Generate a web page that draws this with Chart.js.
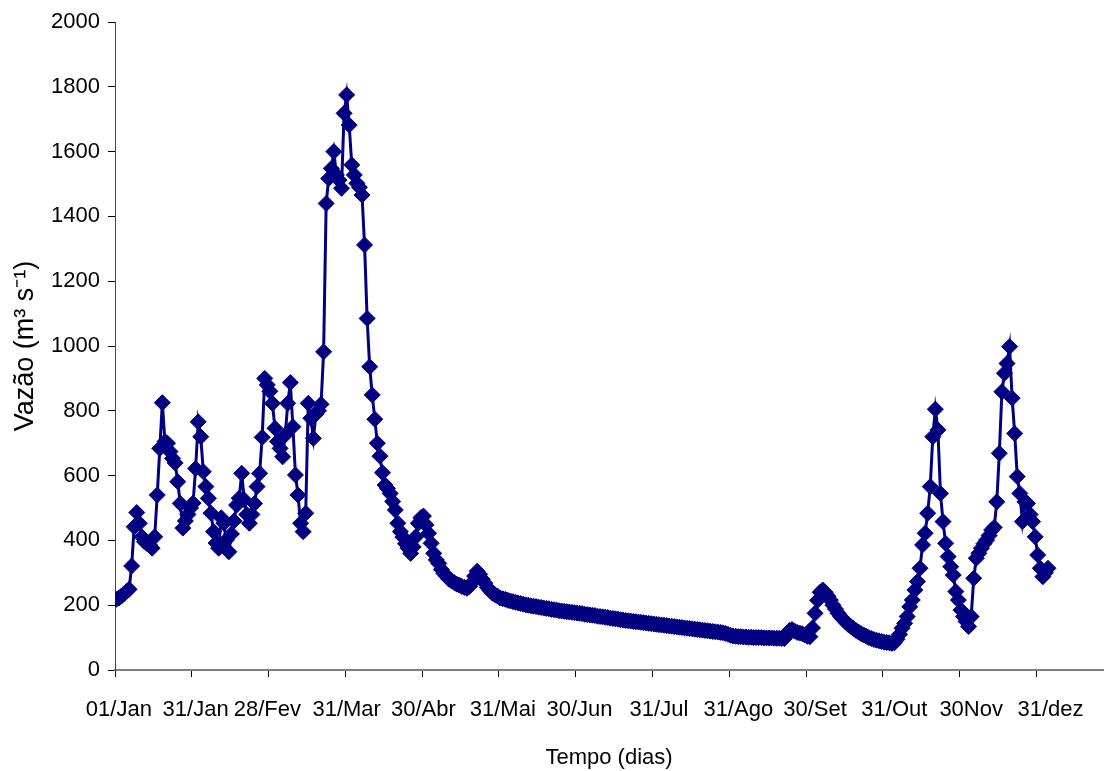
<!DOCTYPE html>
<html>
<head>
<meta charset="utf-8">
<script src="https://cdn.jsdelivr.net/npm/chart.js@4.4.1/dist/chart.umd.min.js"></script>
<style>
  html, body { margin: 0; padding: 0; background: #fff; }
  #grafico { display: block; }
</style>
</head>
<body>
<canvas id="grafico" width="1104" height="771"></canvas>
<script>
// datas do eixo x e o dia do ano de cada uma
const rotulosX = ['01/Jan', '31/Jan', '28/Fev', '31/Mar', '30/Abr', '31/Mai', '30/Jun',
                  '31/Jul', '31/Ago', '30/Set', '31/Out', '30Nov', '31/dez'];
const diasRotulo = [0, 30, 58, 89, 119, 150, 180, 211, 242, 272, 303, 333, 364];
const ticksY = [0, 200, 400, 600, 800, 1000, 1200, 1400, 1600, 1800, 2000];

// vazao diaria (m3 s-1)
const vazao = [
  218, 222, 228, 235, 242, 249, 321, 442, 486, 453,
  411, 396, 390, 386, 376, 411, 540, 684, 825, 705,
  700, 674, 653, 639, 581, 514, 438, 460, 480, 500,
  515, 622, 766, 720, 612, 566, 530, 484, 427, 392,
  376, 470, 453, 401, 365, 420, 460, 509, 530, 607,
  525, 480, 453, 480, 514, 566, 607, 718, 900, 880,
  860, 823, 746, 705, 684, 658, 725, 823, 887, 751,
  602, 540, 453, 427, 484, 823, 777, 715, 790, 800,
  820, 982, 1440, 1517, 1548, 1600, 1528, 1512, 1487, 1718,
  1775, 1682, 1559, 1528, 1502, 1490, 1466, 1312, 1085, 936,
  849, 774, 700, 660, 609, 571, 560, 545, 520, 494,
  453, 427, 410, 390, 376, 360, 380, 411, 453, 470,
  475, 448, 422, 391, 360, 340, 329, 310, 298, 290,
  280, 275, 270, 265, 262, 258, 255, 252, 258, 270,
  290, 305, 295, 280, 268, 255, 245, 237, 232, 228,
  222, 220, 218, 215, 213, 211, 209, 207, 205, 203,
  201, 200, 198, 197, 196, 194, 193, 191, 190, 189,
  187, 186, 185, 183, 182, 181, 180, 179, 178, 177,
  176, 175, 174, 172, 171, 170, 169, 168, 166, 165,
  164, 163, 162, 160, 159, 158, 157, 155, 154, 153,
  152, 151, 150, 149, 148, 147, 146, 145, 144, 143,
  142, 141, 140, 139, 138, 137, 136, 135, 134, 133,
  132, 131, 130, 129, 128, 127, 126, 125, 124, 123,
  122, 121, 120, 119, 118, 117, 116, 115, 113, 110,
  107, 105, 104, 103, 103, 102, 102, 101, 101, 100,
  100, 100, 100, 99, 99, 99, 99, 98, 98, 98,
  97, 97, 110, 122, 125, 120, 116, 114, 112, 108,
  104, 103, 130, 175, 215, 240, 247, 240, 228, 216,
  200, 188, 175, 165, 156, 148, 140, 134, 128, 122,
  117, 112, 108, 104, 100, 97, 94, 92, 90, 88,
  86, 85, 84, 82, 84, 95, 110, 129, 144, 165,
  195, 216, 247, 273, 314, 386, 422, 484, 566, 720,
  805, 741, 545, 458, 391, 350, 319, 293, 242, 216,
  185, 165, 150, 134, 165, 283, 345, 360, 376, 390,
  401, 415, 432, 440, 519, 669, 859, 916, 946, 998,
  839, 730, 597, 545, 458, 519, 514, 480, 458, 411,
  355, 314, 288, 300, 314
];

const familia = 'Liberation Sans, Arial, sans-serif';
const fonte = { family: familia, size: 22 };
const azul = '#000080';
const DIA_MAX = 386;

const pontos = vazao.map((v, i) => ({ x: i + 0.5, y: v }));

const ctx = document.getElementById('grafico').getContext('2d');
const grafico = new Chart(ctx, {
  type: 'line',
  data: {
    datasets: [{
      label: 'Vazão',
      data: pontos,
      borderColor: azul,
      backgroundColor: azul,
      borderWidth: 3,
      pointStyle: 'rectRot',
      pointRadius: 8,
      pointBorderWidth: 1,
      pointBackgroundColor: azul,
      pointBorderColor: azul,
      tension: 0
    }]
  },
  options: {
    responsive: false,
    animation: false,
    devicePixelRatio: 1,
    layout: { autoPadding: false, padding: { left: 0, top: 22, right: 1, bottom: 0 } },
    plugins: {
      legend: { display: false },
      tooltip: { enabled: false }
    },
    scales: {
      // eixo com as marcas (a cada 30 dias)
      x: {
        type: 'linear',
        position: 'bottom',
        weight: 0,
        min: 0,
        max: DIA_MAX,
        grid: { drawOnChartArea: false, drawTicks: true, tickLength: 7, tickColor: '#000', tickWidth: 1 },
        border: { display: true, color: '#808080', width: 2 },
        ticks: { stepSize: 30, autoSkip: false, includeBounds: false, display: false },
        afterFit: (s) => { s.height = 8; }
      },
      // eixo so com os rotulos das datas
      xr: {
        type: 'linear',
        position: 'bottom',
        weight: 1,
        min: 0,
        max: DIA_MAX,
        grid: { display: false },
        border: { display: false },
        afterBuildTicks: (s) => { s.ticks = diasRotulo.map(d => ({ value: d + 1.5 })); },
        ticks: {
          autoSkip: false,
          maxRotation: 0,
          padding: 11,
          color: '#000',
          font: fonte,
          callback: (v, i) => rotulosX[i]
        },
        title: { display: true, text: 'Tempo (dias)', color: '#000', font: fonte, padding: { top: 4, bottom: 0 } },
        afterFit: (s) => { s.height = 93; }
      },
      y: {
        min: ticksY[0],
        max: ticksY[ticksY.length - 1],
        grid: { drawOnChartArea: false, drawTicks: true, tickLength: 7, tickColor: '#000', tickWidth: 1 },
        border: { display: true, color: '#444', width: 1 },
        afterBuildTicks: (s) => { s.ticks = ticksY.map(v => ({ value: v })); },
        ticks: { padding: 8, color: '#000', font: fonte, callback: (v) => String(v) },
        title: { display: true, text: 'Vazão (m³ s⁻¹)', color: '#000', font: { family: familia, size: 27 }, padding: { top: 9, bottom: 0 } },
        afterFit: (s) => { s.width = 115; }
      }
    }
  }
});
</script>
</body>
</html>
